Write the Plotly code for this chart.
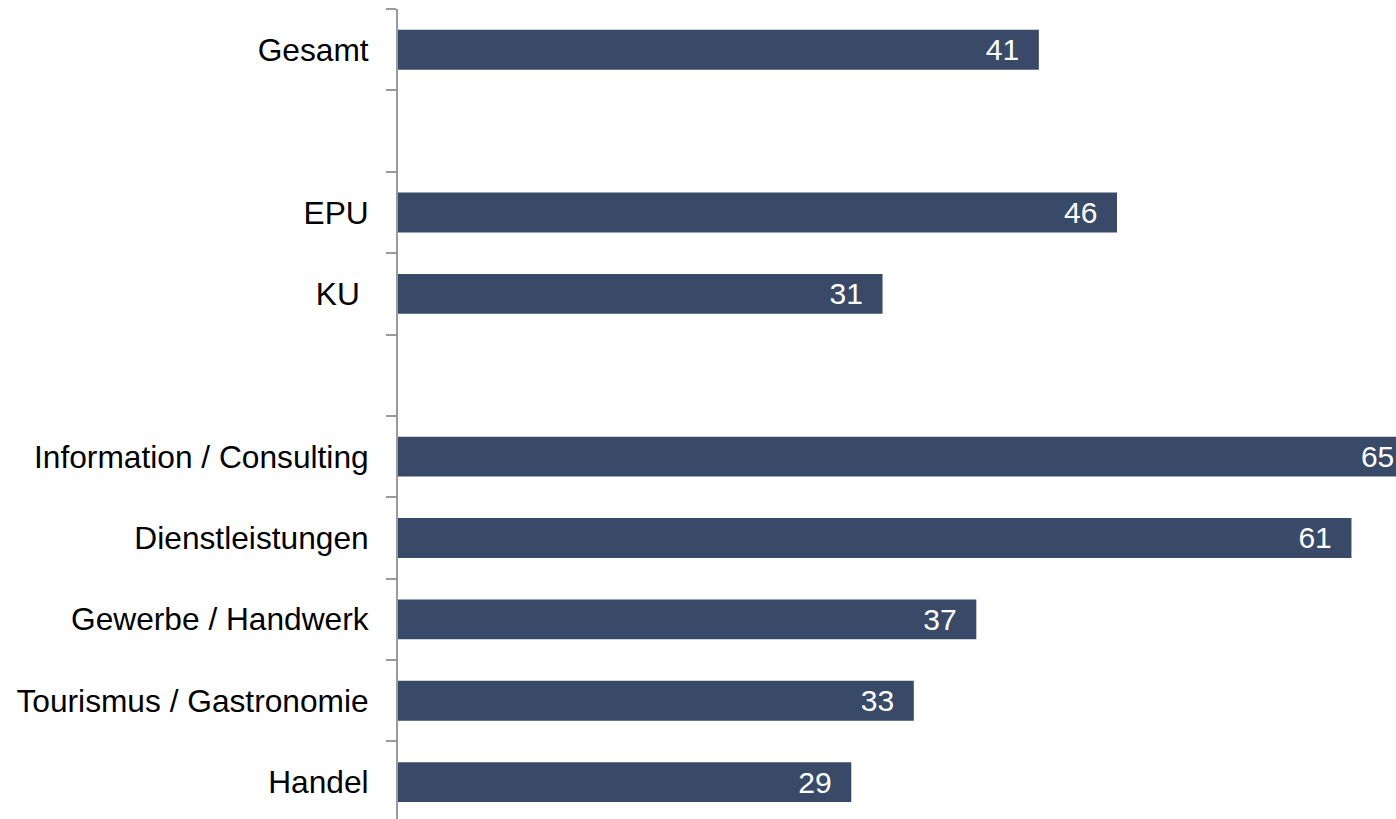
import plotly.graph_objects as go

# Share per group, shown top to bottom; blank entries act as spacer rows
categories = ["Gesamt", " ", "EPU", "KU\u00a0", "  ",
              "Information / Consulting", "Dienstleistungen",
              "Gewerbe / Handwerk", "Tourismus / Gastronomie", "Handel"]
values = [41, None, 46, 31, None, 65, 61, 37, 33, 29]

bar_color = "#394A68"
axis_color = "#9A9A9A"
font_family = "Liberation Sans, Arial, sans-serif"

# value labels sit inside the bar end, padded with two no-break spaces
labels = ["" if v is None else f"{v}\u00a0\u00a0" for v in values]

fig = go.Figure(
    go.Bar(
        y=categories,
        x=values,
        orientation="h",
        marker=dict(color=bar_color, line=dict(width=0)),
        text=labels,
        textposition="inside",
        insidetextanchor="end",
        textangle=0,
        constraintext="none",
        textfont=dict(family=font_family, size=30, color="white"),
        hoverinfo="skip",
    )
)

fig.update_layout(
    width=1396,
    height=819,
    margin=dict(l=398, r=0, t=9, b=0),
    paper_bgcolor="white",
    plot_bgcolor="white",
    bargap=0.51,
    showlegend=False,
    font=dict(family=font_family),
)

fig.update_xaxes(
    range=[0, 63.85],
    visible=False,
    showgrid=False,
    zeroline=False,
)

fig.update_yaxes(
    type="category",
    categoryorder="array",
    categoryarray=categories,
    range=[9.453, -0.5],
    tickson="boundaries",
    ticks="outside",
    ticklen=10,
    tickwidth=2,
    tickcolor=axis_color,
    showline=True,
    linecolor=axis_color,
    linewidth=2,
    showgrid=False,
    zeroline=False,
    ticklabelstandoff=21,
    tickfont=dict(family=font_family, size=31.7, color="black"),
)

fig.write_html("out.html")
